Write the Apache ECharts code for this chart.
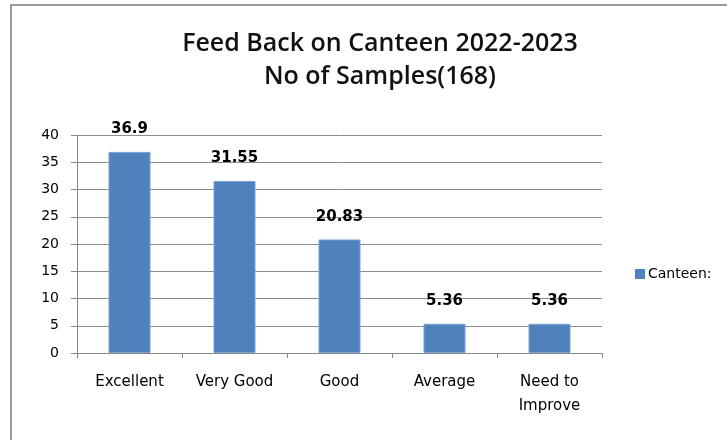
<!DOCTYPE html>
<html>
<head>
<meta charset="utf-8">
<script src="https://cdn.jsdelivr.net/npm/echarts@6/dist/echarts.min.js"></script>
<style>
  html, body { margin: 0; padding: 0; background: #fff; }
  #chart { width: 727px; height: 440px; }
</style>
</head>
<body>
<div id="chart"></div>
<script>
// Canteen feedback, percentage of 168 responses per rating
const categories = ['Excellent', 'Very Good', 'Good', 'Average', 'Need to\nImprove'];
const canteenValues = [36.9, 31.55, 20.83, 5.36, 5.36];
const seriesName = 'Canteen:';
const titleLines = ['Feed Back on Canteen 2022-2023', 'No of Samples(168)'];

const chart = echarts.init(document.getElementById('chart'));
chart.setOption({
  animation: false,
  backgroundColor: '#ffffff',
  graphic: [{
    type: 'rect',
    shape: { x: 11, y: 5, width: 760, height: 480 },
    style: { fill: 'none', stroke: '#999999', lineWidth: 2 },
    silent: true
  }],
  title: {
    text: titleLines.join('\n'),
    left: 375,
    textAlign: 'center',
    top: 22,
    textStyle: {
      fontFamily: 'Open Sans',
      fontWeight: 600,
      fontSize: 25,
      lineHeight: 33,
      color: '#111'
    }
  },
  legend: {
    orient: 'vertical',
    left: 630,
    top: 262,
    itemWidth: 10,
    itemHeight: 10,
    itemGap: 6,
    icon: 'rect',
    itemStyle: { color: '#4F81BD', borderWidth: 0 },
    textStyle: { fontFamily: 'DejaVu Sans', fontSize: 14, color: '#000', padding: [0, 0, 0, -2] },
    data: [seriesName]
  },
  grid: { left: 77, right: 125, top: 135, bottom: 87, containLabel: false },
  xAxis: {
    type: 'category',
    data: categories,
    axisLine: { lineStyle: { color: '#888', width: 1 } },
    axisTick: { show: true, length: 5, alignWithLabel: false, lineStyle: { color: '#888' } },
    axisLabel: {
      fontFamily: 'DejaVu Sans',
      fontSize: 15,
      color: '#000',
      margin: 17,
      lineHeight: 24,
      interval: 0
    }
  },
  yAxis: {
    type: 'value',
    min: 0,
    max: 40,
    interval: 5,
    axisLine: { show: true, lineStyle: { color: '#888' } },
    axisTick: { show: true, length: 6, lineStyle: { color: '#888' } },
    splitLine: { lineStyle: { color: '#8c8c8c', width: 1 } },
    axisLabel: { fontFamily: 'DejaVu Sans', fontSize: 14, color: '#000', margin: 18 }
  },
  series: [{
    name: seriesName,
    type: 'bar',
    data: canteenValues,
    barWidth: '40%',
    itemStyle: { color: '#4F81BD', borderColor: '#7aa0d0', borderWidth: 1 },
    label: {
      show: true,
      position: 'top',
      distance: 15,
      fontFamily: 'DejaVu Sans',
      fontWeight: 'bold',
      fontSize: 15,
      color: '#000'
    }
  }]
});
</script>
</body>
</html>
